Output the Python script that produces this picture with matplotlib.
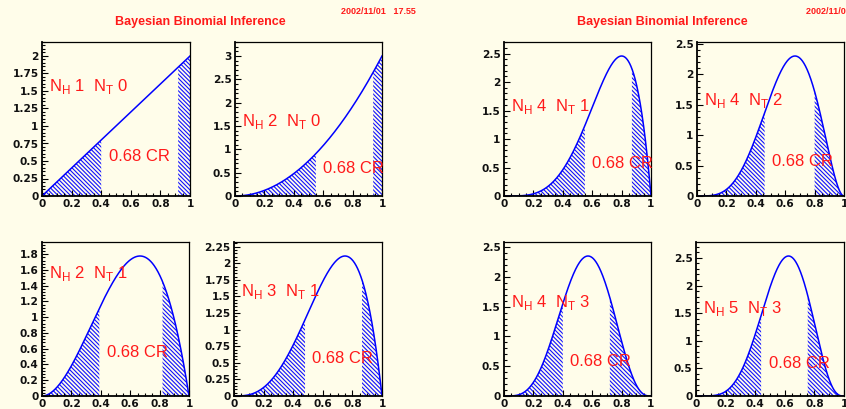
import math
import numpy as np
import matplotlib
matplotlib.use("Agg")
import matplotlib.pyplot as plt
from matplotlib.ticker import MultipleLocator, AutoMinorLocator, FuncFormatter

# ---- data ----
n_heads = [1, 2, 2, 3, 4, 4, 4, 5]
n_tails = [0, 0, 1, 1, 1, 2, 3, 3]
cr_low = [0.40, 0.55, 0.39, 0.48, 0.55, 0.46, 0.40, 0.44]
cr_high = [0.92, 0.94, 0.82, 0.865, 0.87, 0.80, 0.72, 0.755]
y_steps = [0.25, 0.5, 0.2, 0.25, 0.5, 0.5, 0.5, 0.5]
x_ticks = [0, 0.2, 0.4, 0.6, 0.8, 1]
title_text = "Bayesian Binomial Inference"
date_text = "2002/11/01   17.55"
cr_label = "0.68 CR"

# ---- style ----
BG = "#fffdea"
RED = "#ff1a1a"
FONT = "Liberation Sans"
plt.rcParams["font.family"] = [FONT, "DejaVu Sans"]
plt.rcParams["mathtext.fontset"] = "custom"
plt.rcParams["mathtext.rm"] = FONT
plt.rcParams["hatch.linewidth"] = 0.8

W, H = 846, 409
fig = plt.figure(figsize=(W / 100, H / 100), dpi=100, facecolor=BG)

# axes boxes in pixels: (left, top, right, bottom)
boxes = [(42, 42, 190, 196), (235, 42, 382, 196),
         (42, 242, 189, 396), (234, 242, 382, 396),
         (504, 42, 651, 196), (697, 42, 844, 196),
         (504, 242, 651, 396), (696, 242, 844, 396)]


def posterior(x, h, t):
    a, b = h + 1, t + 1
    c = math.gamma(a + b) / (math.gamma(a) * math.gamma(b))
    return c * x ** (a - 1) * (1 - x) ** (b - 1)


fmt = FuncFormatter(lambda v, p: f"{v:g}")

for i, (l, t, r, b) in enumerate(boxes):
    ax = fig.add_axes([l / W, 1 - b / H, (r - l) / W, (b - t) / H])
    ax.set_facecolor(BG)
    h, tl = n_heads[i], n_tails[i]
    x = np.linspace(0, 1, 600)
    y = posterior(x, h, tl)
    ymax = y.max() * 1.1
    xl = np.linspace(0, cr_low[i], 300)
    xr = np.linspace(cr_high[i], 1, 300)
    for xs in (xl, xr):
        ax.fill_between(xs, 0, posterior(xs, h, tl), facecolor="none",
                        edgecolor="#1010ff", hatch="\\" * 8, linewidth=0)
    ax.plot(x, y, color="#0000ff", lw=1.1, solid_joinstyle="round")
    ax.set_xlim(0, 1)
    ax.set_ylim(0, ymax)
    ax.set_xticks(x_ticks)
    ax.xaxis.set_major_formatter(fmt)
    ax.xaxis.set_minor_locator(AutoMinorLocator(4))
    ax.yaxis.set_major_locator(MultipleLocator(y_steps[i]))
    ax.yaxis.set_major_formatter(fmt)
    ax.yaxis.set_minor_locator(AutoMinorLocator(5))
    ax.tick_params(which="both", direction="in", top=False, right=False,
                   colors="black")
    ax.tick_params(which="major", length=4, width=0.8, pad=2.5)
    ax.tick_params(which="minor", length=2, width=0.8)
    for lab in ax.get_xticklabels() + ax.get_yticklabels():
        lab.set_fontfamily("DejaVu Sans")
        lab.set_fontsize(7.6)
        lab.set_fontweight("bold")
        lab.set_color("#111111")
    ax.tick_params(axis="y", pad=2.5)
    for s in ("top", "right"):
        ax.spines[s].set_linewidth(0.9)
    for s in ("left", "bottom"):
        ax.spines[s].set_linewidth(1.3)
    ax.text(0.05, 1.5,
            r"N$_{\mathregular{H}}$ " + f"{h}" + r"  N$_{\mathregular{T}}$ " + f"{tl}",
            color=RED, fontsize=12, va="baseline", ha="left")
    ax.text(cr_low[i] + 0.05, 0.5, cr_label, color=RED, fontsize=12,
            va="baseline", ha="left")

# canvas titles and date stamps
fig.text(200 / W, 1 - 22 / H, title_text, color=RED, fontsize=9,
         fontweight="bold", ha="center", va="center")
fig.text(662 / W, 1 - 22 / H, title_text, color=RED, fontsize=9,
         fontweight="bold", ha="center", va="center")
fig.text(416 / W, 1 - 11 / H, date_text, color=RED, fontsize=6.5,
         fontweight="bold", ha="right", va="center")
fig.text(806 / W, 1 - 11 / H, date_text, color=RED, fontsize=6.5,
         fontweight="bold", ha="left", va="center")

fig.savefig("out.png", dpi=100, facecolor=BG)
